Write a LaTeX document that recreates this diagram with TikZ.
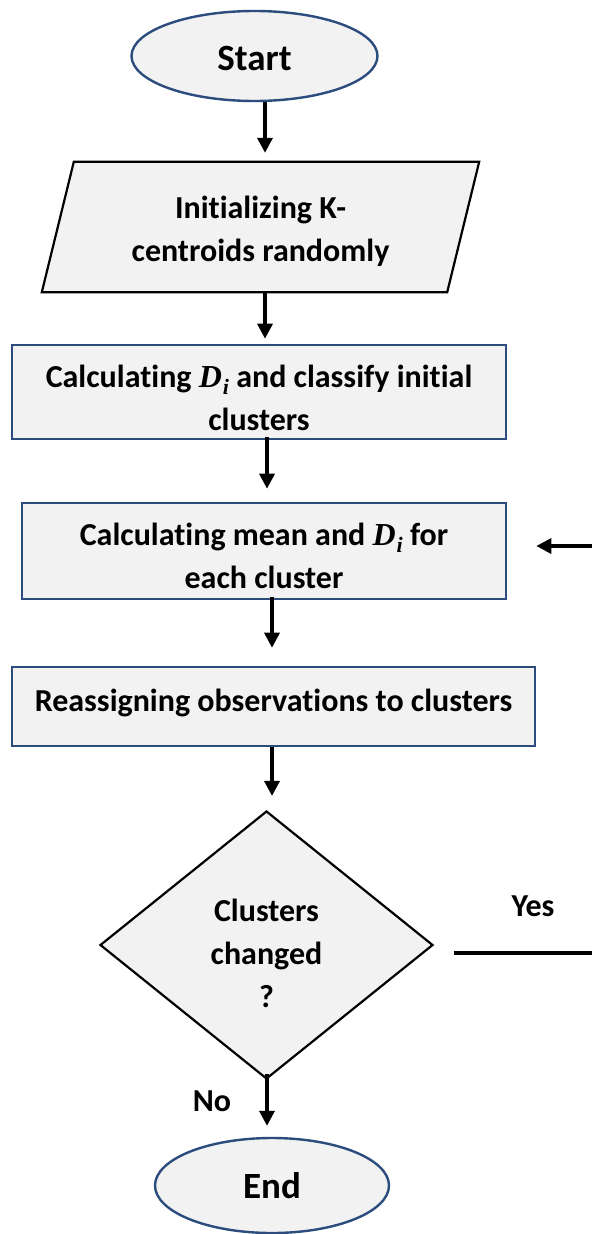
\documentclass[tikz,border=0pt]{standalone}
\usepackage{fontspec}
\setmainfont{Carlito}[RawFeature={-liga;-clig;-calt;-dlig}]
\newfontfamily\mathserif{Liberation Serif}
\newcommand\Dsub{{\mathserif\bfseries\itshape D\kern1pt\raisebox{-0.22em}{\fontsize{22}{22}\selectfont i}}}
\usetikzlibrary{shapes.geometric,arrows.meta,backgrounds}
\definecolor{boxfill}{HTML}{F2F2F2}
\definecolor{navy}{HTML}{2C4C7E}
\begin{document}
\begin{tikzpicture}[x=1pt,y=-1pt,
  font=\fontsize{32}{43}\selectfont\bfseries,
  term/.style={ellipse, draw=navy, line width=2.4pt, fill=boxfill, inner sep=0pt},
  termtxt/.style={inner sep=0pt, font=\fontsize{37}{43}\selectfont\bfseries},
  procbox/.style={rectangle, draw=navy, line width=2.6pt, fill=boxfill, inner sep=0pt, align=center},
  decision/.style={diamond, draw=black, line width=2.2pt, fill=boxfill, inner sep=0pt, align=center},
  plain/.style={inner sep=0pt, align=center},
  arr/.style={-{Triangle[length=15pt,width=15pt]}, line width=3.4pt},
  conn/.style={line width=3.4pt}
]
\begin{scope}[on background layer]
\fill[white] (0,0) rectangle (592,1234);
\end{scope}
\useasboundingbox (0,0) rectangle (592,1234);

\node[term, minimum width=246pt, minimum height=90pt,
  label={[termtxt,yshift=-3pt]center:Start}] (start) at (254.5,56) {};
\node[plain, minimum width=405pt, minimum height=130pt] (init) at (260.5,227) {};
\draw[fill=boxfill, line width=2.2pt] ([xshift=16pt]init.north west) -- ([xshift=16pt]init.north east)
  -- ([xshift=-16pt]init.south east) -- ([xshift=-16pt]init.south west) -- cycle;
\node[plain] (inittxt) at (260.5,231) {Initializing K-\\centroids randomly};

\node[procbox, minimum width=494pt, minimum height=94pt,
  label={[plain,yshift=-6pt]center:Calculating \Dsub{} and classify initial\\clusters}] (calc1) at (259,392) {};
\node[procbox, minimum width=484pt, minimum height=96pt,
  label={[plain,yshift=-5pt]center:Calculating mean and \Dsub{} for\\each cluster}] (calc2) at (264,551) {};
\node[procbox, minimum width=523pt, minimum height=79pt,
  label={[plain,yshift=4pt]center:Reassigning observations to clusters}] (reassign) at (273.5,706.5) {};
\node[decision, minimum width=333pt, minimum height=268pt,
  label={[plain,yshift=-8pt]center:Clusters\\changed\\?}] (dec) at (266.5,945) {};
\node[term, minimum width=234pt, minimum height=95pt,
  label={[termtxt]center:End}] (end) at (272,1185.5) {};

\coordinate (yesE) at (592,953);
\coordinate (loopE) at (592,546);
\node[plain] (yes) at (533,906) {Yes};
\node[plain] (no) at (212,1101) {No};

\draw[arr] ([xshift=10.5pt]start.south) -- ([xshift=4.5pt,yshift=9pt]init.north);
\draw[arr] ([xshift=4.5pt]init.south) -- ([xshift=6pt,yshift=5pt]calc1.north);
\draw[arr] ([xshift=8pt,yshift=3pt]calc1.south) -- ([xshift=3pt,yshift=13pt]calc2.north);
\draw[arr] ([xshift=8pt,yshift=3pt]calc2.south) -- ([xshift=-1.5pt,yshift=18pt]reassign.north);
\draw[arr] ([xshift=-1.5pt]reassign.south) -- ([xshift=5.5pt,yshift=14pt]dec.north);
\draw[arr] ([xshift=0.5pt,yshift=6pt]dec.south) -- ([xshift=-5pt,yshift=11pt]end.north);
\draw[conn] ([xshift=20pt]dec.east |- yesE) -- (yesE);
\draw[arr, shorten >=29pt] (loopE) -- (loopE -| calc2.east);
\end{tikzpicture}
\end{document}
